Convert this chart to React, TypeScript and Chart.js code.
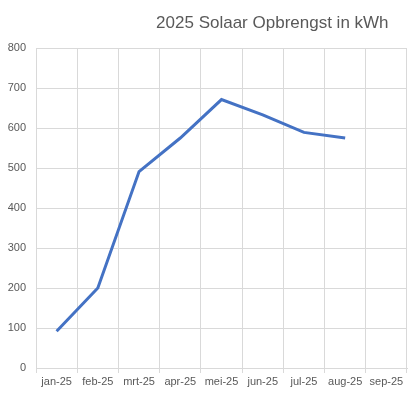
import React, { useEffect, useRef } from "react";
import { Chart, registerables } from "chart.js";

Chart.register(...registerables);

const months = ["jan-25", "feb-25", "mrt-25", "apr-25", "mei-25", "jun-25", "jul-25", "aug-25", "sep-25"];
const opbrengst: (number | null)[] = [92, 200, 491, 575, 671, 633, 589, 575, null];
const yMin = 0;
const yMax = 800;
const yStep = 100;
const titleText = "2025 Solaar Opbrengst in kWh";

const titlePlugin = {
  id: "customTitle",
  afterDraw(chart: any) {
    const { ctx, chartArea } = chart;
    ctx.save();
    ctx.font = "17px 'Liberation Sans', Arial, sans-serif";
    ctx.fillStyle = "#595959";
    ctx.textAlign = "center";
    ctx.textBaseline = "middle";
    const x = chartArea.left + (chartArea.right - chartArea.left) * 0.637;
    ctx.fillText(titleText, x, 23);
    ctx.restore();
  },
};

export default function App() {
  const ref = useRef<HTMLCanvasElement>(null);
  useEffect(() => {
    document.body.style.margin = "0";
    const chart = new Chart(ref.current!, {
      type: "line",
      data: {
        labels: months,
        datasets: [
          {
            data: opbrengst,
            borderColor: "#4472C4",
            backgroundColor: "#4472C4",
            borderWidth: 3,
            pointRadius: 0,
            tension: 0,
            spanGaps: false,
          },
        ],
      },
      options: {
        animation: false,
        responsive: false,
        maintainAspectRatio: false,
        layout: { padding: { top: 48, right: 2, left: 0, bottom: 0 } },
        plugins: { legend: { display: false }, title: { display: false }, tooltip: { enabled: false } },
        scales: {
          x: {
            offset: true,
            grid: { offset: true, color: "#D9D9D9", drawTicks: true, tickLength: 5, tickColor: "#D9D9D9" },
            border: { color: "#D9D9D9" },
            ticks: {
              color: "#595959",
              font: { family: "'Liberation Sans', Arial, sans-serif", size: 11 },
              maxRotation: 0,
              autoSkip: false,
              padding: 2,
            },
            afterFit(scale: any) {
              scale.height = 27;
            },
          },
          y: {
            min: yMin,
            max: yMax,
            grid: { color: "#D9D9D9", drawTicks: false },
            border: { display: false },
            ticks: {
              stepSize: yStep,
              color: "#595959",
              font: { family: "'Liberation Sans', Arial, sans-serif", size: 11 },
              padding: 10,
            },
            afterFit(scale: any) {
              scale.width = 36;
            },
          },
        },
      },
      plugins: [titlePlugin],
    });
    return () => chart.destroy();
  }, []);
  return (
    <div style={{ width: 409, height: 395 }}>
      <canvas ref={ref} width={409} height={395} style={{ display: "block" }} />
    </div>
  );
}
